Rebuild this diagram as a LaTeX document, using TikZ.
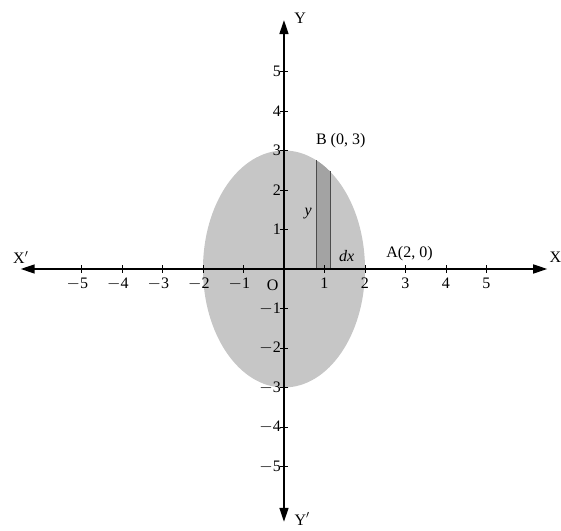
\documentclass[tikz,border=0pt]{standalone}
\usepackage{fontspec}
\setmainfont{Liberation Serif}
\usetikzlibrary{arrows.meta}
\begin{document}
\begin{tikzpicture}[x=40.5pt,y=39.5pt,
  axis/.style={line width=1.6pt,-{Triangle[length=14pt,width=9pt]}},
  lbl/.style={font=\fontsize{16}{18}\selectfont,inner sep=1pt},
  tick/.style={line width=0.9pt}]
\useasboundingbox (-7.012,-6.633) rectangle (6.840,6.810);
% ellipse region
\fill[gray!45] (0,0) ellipse [x radius=2, y radius=3];
% strip
\begin{scope}
  \clip (0,0) ellipse [x radius=2, y radius=3];
  \fill[gray!72] (0.8,0) rectangle (1.13,3);
\end{scope}
\draw[gray!60!black,line width=0.4pt] (0.8,0) -- (0.8,{3*sqrt(1-0.16)});
\draw[gray!60!black,line width=0.4pt] (1.13,0) -- (1.13,{3*sqrt(1-1.13*1.13/4)});
% axes
\coordinate (xl) at (-6.5,0);
\coordinate (xr) at (6.5,0);
\coordinate (yt) at (0,6.3);
\coordinate (yb) at (0,-6.4);
\coordinate (o) at (0,0);
\draw[axis] (o) -- (xl);
\draw[axis] (o) -- (xr);
\draw[axis] (o) -- (yt);
\draw[axis] (o) -- (yb);
% ticks
\foreach \i in {-5,-4,-3,-2,-1,1,2,3,4,5} {
  \draw[tick] (\i,-0.1) -- (\i,0.1);
  \draw[tick] (-0.1,\i) -- (0.1,\i);
}
\foreach \i/\t in {-5/$-$5,-4/$-$4,-3/$-$3,-2/$-$2,-1/$-$1} {
  \node[lbl,anchor=north] (xt\i) at (\i-0.1,-0.2) {\t};
}
\foreach \i in {1,2,3,4,5} {
  \node[lbl,anchor=north] (xp\i) at (\i,-0.2) {\i};
}
\foreach \i/\t in {-5/$-$5,-4/$-$4,-3/$-$3,-2/$-$2,-1/$-$1} {
  \node[lbl,anchor=east] (yn\i) at (-0.05,\i) {\t};
}
\foreach \i in {1,2,3,4,5} {
  \node[lbl,anchor=east] (yp\i) at (-0.05,\i) {\i};
}
\node[lbl] (O) at (-0.28,-0.4) {O};
\node[lbl] (X1) at (-6.5,0.3) {X$'$};
\node[lbl] (X) at (6.7,0.3) {X};
\node[lbl] (Y) at (0.4,6.35) {Y};
\node[lbl] (Y1) at (0.45,-6.33) {Y$'$};
\node[lbl] (B) at (1.4,3.25) {B (0, 3)};
\node[lbl] (A) at (3.1,0.4) {A(2, 0)};
\node[lbl] (dx) at (1.55,0.32) {\textit{dx}};
\node[lbl] (y) at (0.6,1.4) {\textit{y}};
\end{tikzpicture}
\end{document}
